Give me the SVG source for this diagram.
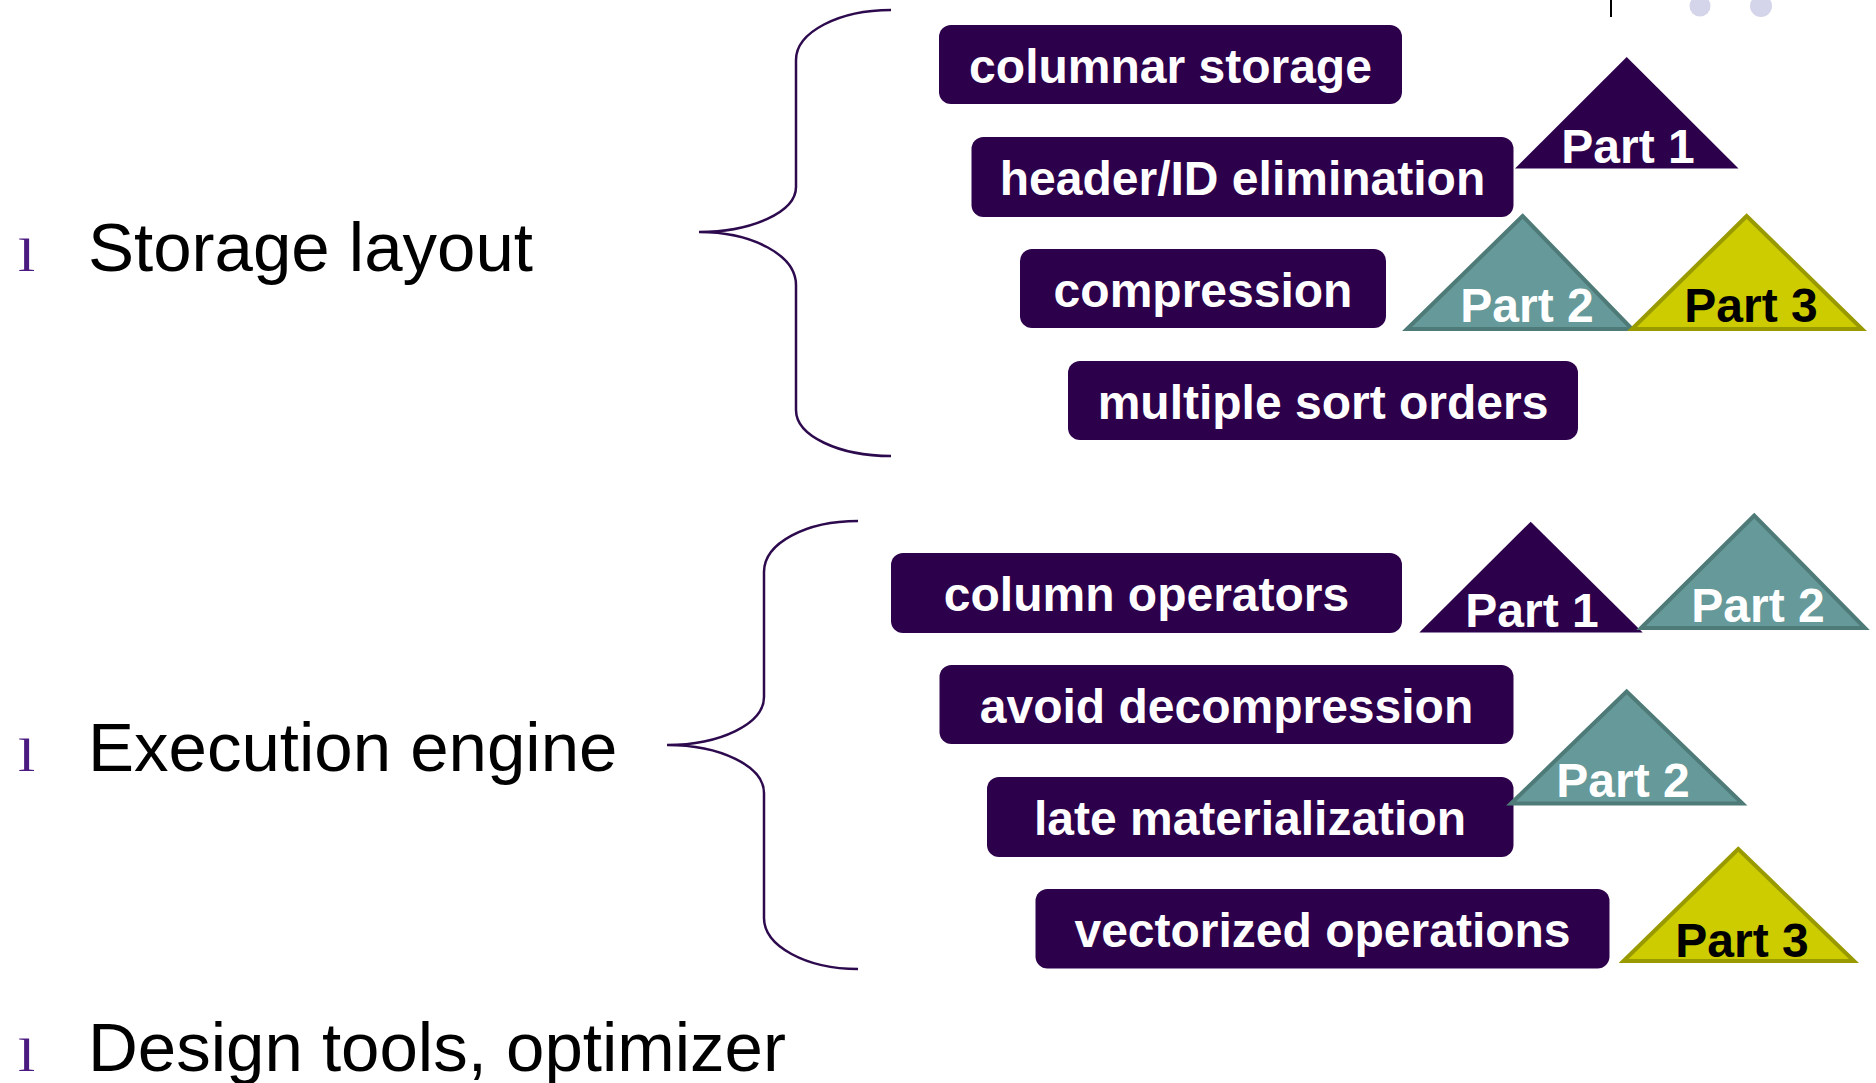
<svg xmlns="http://www.w3.org/2000/svg" width="1876" height="1083" viewBox="0 0 1876 1083">
<style>
.box{fill:#2d004b;}
.bt{font-family:"Liberation Sans",Arial,sans-serif;font-weight:bold;font-size:48px;fill:#ffffff;text-anchor:middle;}
.pt{font-family:"Liberation Sans",Arial,sans-serif;font-weight:bold;font-size:48px;text-anchor:middle;}
.t1{fill:#2d004b;}
.t2{fill:#669999;stroke:#4e7a78;stroke-width:4;stroke-linejoin:miter;}
.t3{fill:#cccc00;stroke:#999900;stroke-width:4;stroke-linejoin:miter;}
.brace{fill:none;stroke:#2d0a4e;stroke-width:2.5;}
.lbl{font-family:"Liberation Sans",Arial,sans-serif;font-size:69px;fill:#000000;}
.bul{font-family:"Liberation Serif","Times New Roman",serif;font-size:46px;fill:#4a1a80;}
</style>
<rect x="0" y="0" width="1876" height="1083" fill="#ffffff"/>
<g id="decor">
<line x1="1611" y1="0" x2="1611" y2="17" stroke="#000" stroke-width="2"/>
<circle cx="1700" cy="6" r="10.5" fill="#d4d4ea"/>
<circle cx="1761" cy="6" r="11" fill="#d4d4ea"/>
</g>
<g id="labels">
<g id="storage-layout"><text class="bul" transform="translate(18,271) scale(1.35,1)">l</text><text class="lbl" x="88" y="271">Storage layout</text></g>
<g id="execution-engine"><text class="bul" transform="translate(18,771) scale(1.35,1)">l</text><text class="lbl" x="88" y="771">Execution engine</text></g>
<g id="design-tools"><text class="bul" transform="translate(18,1071) scale(1.35,1)">l</text><text class="lbl" x="88" y="1071">Design tools, optimizer</text></g>
</g>
<g id="connectors">
<path class="brace" d="M891,10 C839,10 796,32 796,60 L796,187 C796,212 752,232 699,232 C752,232 796,255 796,285 L796,410 C796,436 839,456 891,456"/>
<path class="brace" d="M858,521 C806,521 764,543 764,572 L764,697 C764,724 720,745 667,745 C720,745 764,766 764,793 L764,918 C764,946 806,969 858,969"/>
</g>
<g id="columnar-storage"><rect class="box" x="939" y="25" width="463" height="79" rx="12"/><text class="bt" x="1170.5" y="83">columnar storage</text></g>
<g id="header-id-elimination"><rect class="box" x="971.5" y="137" width="542" height="80" rx="12"/><text class="bt" x="1242.5" y="195">header/ID elimination</text></g>
<g id="compression"><rect class="box" x="1020" y="249" width="366" height="79" rx="12"/><text class="bt" x="1203" y="307">compression</text></g>
<g id="multiple-sort-orders"><rect class="box" x="1068" y="361" width="510" height="79" rx="12"/><text class="bt" x="1323" y="419">multiple sort orders</text></g>
<g id="s-part1"><polygon class="t1" points="1626.7,57 1515,168.5 1738.5,168.5"/><text class="pt" x="1628" y="163" fill="#ffffff">Part 1</text></g>
<g id="s-part2"><polygon class="t2" points="1522.7,216 1407,329 1632,329"/><text class="pt" x="1527" y="322" fill="#ffffff">Part 2</text></g>
<g id="s-part3"><polygon class="t3" points="1746.7,216 1632,329 1862,329"/><text class="pt" x="1751" y="322" fill="#000000">Part 3</text></g>
<g id="column-operators"><rect class="box" x="891" y="553" width="511" height="80" rx="12"/><text class="bt" x="1146.5" y="611">column operators</text></g>
<g id="avoid-decompression"><rect class="box" x="939.5" y="665" width="574" height="79" rx="12"/><text class="bt" x="1226.5" y="723">avoid decompression</text></g>
<g id="late-materialization"><rect class="box" x="987" y="777" width="526.5" height="80" rx="12"/><text class="bt" x="1250" y="835">late materialization</text></g>
<g id="vectorized-operations"><rect class="box" x="1035.5" y="889" width="574" height="79.5" rx="12"/><text class="bt" x="1322.5" y="947">vectorized operations</text></g>
<g id="e-part1"><polygon class="t1" points="1530.7,521.7 1419.3,632.5 1642.7,632.5"/><text class="pt" x="1532" y="627" fill="#ffffff">Part 1</text></g>
<g id="e-part2a"><polygon class="t2" points="1754.3,515.5 1641,628 1865,628"/><text class="pt" x="1758" y="622" fill="#ffffff">Part 2</text></g>
<g id="e-part2b"><polygon class="t2" points="1626.7,691.5 1511,803.5 1742.5,803.5"/><text class="pt" x="1623" y="797" fill="#ffffff">Part 2</text></g>
<g id="e-part3"><polygon class="t3" points="1738.3,849 1623.5,961 1854,961"/><text class="pt" x="1742" y="957" fill="#000000">Part 3</text></g>
</svg>
